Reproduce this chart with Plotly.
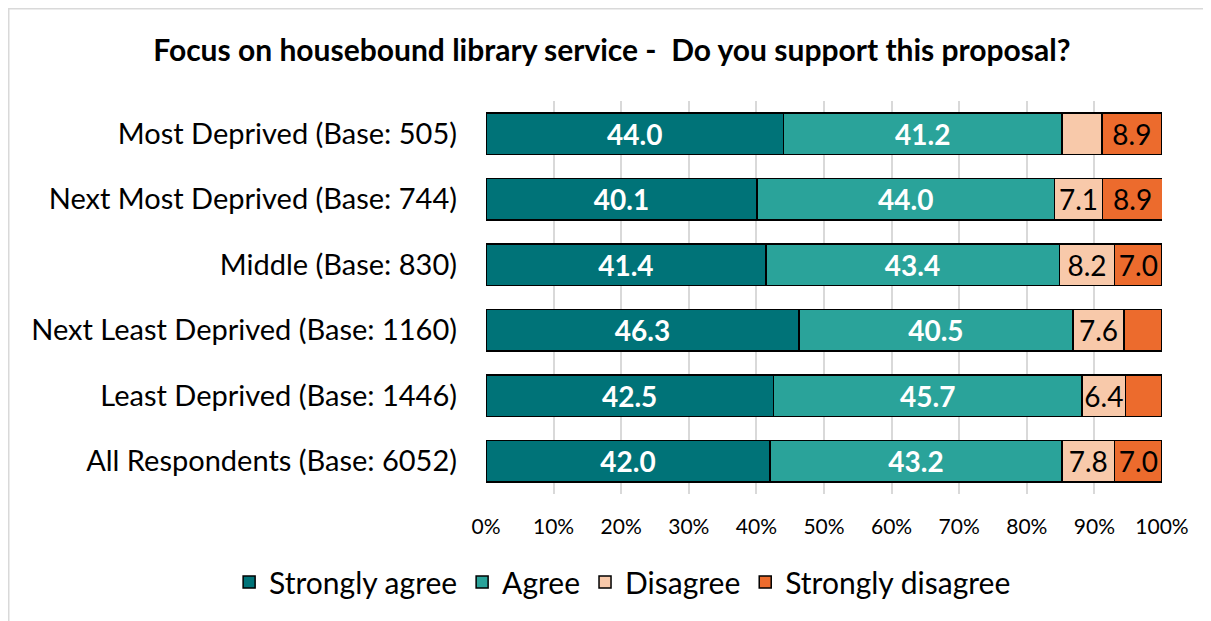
import plotly.graph_objects as go

categories = [
    "Most Deprived (Base: 505)",
    "Next Most Deprived (Base: 744)",
    "Middle (Base: 830)",
    "Next Least Deprived (Base: 1160)",
    "Least Deprived (Base: 1446)",
    "All Respondents (Base: 6052)",
]
strongly_agree = [44.0, 40.1, 41.4, 46.3, 42.5, 42.0]
agree = [41.2, 44.0, 43.4, 40.5, 45.7, 43.2]
disagree = [5.9, 7.1, 8.2, 7.6, 6.4, 7.8]
strongly_disagree = [8.9, 8.9, 7.0, 5.6, 5.4, 7.0]

series = [
    ("Strongly agree", strongly_agree, "#007378", "white", True),
    ("Agree", agree, "#2AA39A", "white", True),
    ("Disagree", disagree, "#F8C9AA", "black", False),
    ("Strongly disagree", strongly_disagree, "#EC6B2D", "black", False),
]

FONT = "Lato, Carlito, Calibri, sans-serif"

fig = go.Figure()
for name, vals, color, tcolor, bold in series:
    labels = ["{:.1f}".format(v) if v >= 6 else "" for v in vals]
    if bold:
        labels = ["<b>%s</b>" % t if t else "" for t in labels]
    fig.add_trace(go.Bar(
        y=categories,
        x=vals,
        name=name,
        orientation="h",
        marker={"color": color, "line": {"color": "black", "width": 1.5}},
        text=labels,
        textposition="inside",
        insidetextanchor="middle",
        textangle=0,
        constraintext="none",
        insidetextfont={"color": tcolor, "size": 28, "family": FONT},
        hoverinfo="skip",
    ))

# page body adds an 8px offset, so the figure is 8px smaller than the window
fig.update_layout(
    barmode="stack",
    bargap=0.36,
    width=1203,
    height=613,
    margin={"l": 478, "r": 49, "t": 93, "b": 127},
    paper_bgcolor="white",
    plot_bgcolor="white",
    font={"family": FONT, "color": "black"},
    title={
        "text": "<b>Focus on housebound library service -  Do you support this proposal?</b>",
        "x": 0.502,
        "xanchor": "center",
        "y": 0.931,
        "yanchor": "middle",
        "font": {"size": 30, "family": FONT, "color": "black"},
    },
    xaxis={
        "range": [0, 100],
        "tickvals": [0, 10, 20, 30, 40, 50, 60, 70, 80, 90, 100],
        "ticktext": ["0%", "10%", "20%", "30%", "40%", "50%", "60%", "70%", "80%", "90%", "100%"],
        "showgrid": True,
        "gridcolor": "#D9D9D9",
        "gridwidth": 1.5,
        "zeroline": False,
        "tickfont": {"size": 21, "family": FONT},
        "ticklabelstandoff": 18,
        "automargin": False,
        "fixedrange": True,
    },
    yaxis={
        "autorange": "reversed",
        "tickfont": {"size": 29, "family": FONT},
        "ticklabelstandoff": 28,
        "showgrid": False,
        "automargin": False,
        "fixedrange": True,
    },
    legend={
        "orientation": "h",
        "x": -0.38,
        "xanchor": "left",
        "y": -0.224,
        "yanchor": "middle",
        "font": {"size": 30, "family": FONT},
        "traceorder": "normal",
        "itemwidth": 30,
    },
    shapes=[{
        "type": "rect",
        "xref": "paper",
        "yref": "paper",
        "x0": -0.706,
        "x1": 1.2,
        "y0": -0.4,
        "y1": 1.235,
        "line": {"color": "#D9D9D9", "width": 1.5},
        "fillcolor": "rgba(0,0,0,0)",
        "layer": "below",
    }],
)

fig.write_html("out.html")
